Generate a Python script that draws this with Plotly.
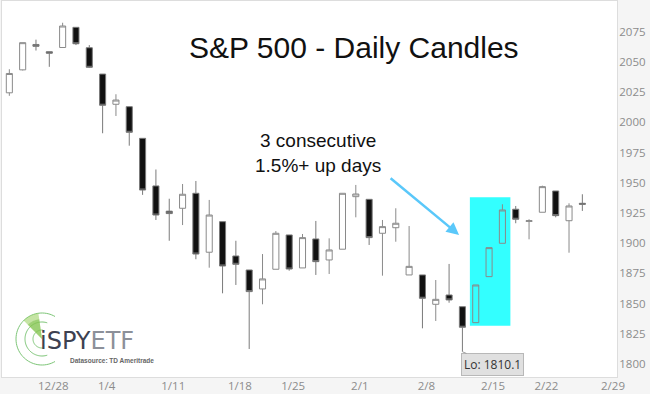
import numpy as np
import plotly.graph_objects as go

# ---------------- data ----------------
dates = ['2015-12-22', '2015-12-23', '2015-12-24', '2015-12-28', '2015-12-29', '2015-12-30',
         '2015-12-31', '2016-01-04', '2016-01-05', '2016-01-06', '2016-01-07', '2016-01-08',
         '2016-01-11', '2016-01-12', '2016-01-13', '2016-01-14', '2016-01-15', '2016-01-19',
         '2016-01-20', '2016-01-21', '2016-01-22', '2016-01-25', '2016-01-26', '2016-01-27',
         '2016-01-28', '2016-01-29', '2016-02-01', '2016-02-02', '2016-02-03', '2016-02-04',
         '2016-02-05', '2016-02-08', '2016-02-09', '2016-02-10', '2016-02-11', '2016-02-12',
         '2016-02-16', '2016-02-17', '2016-02-18', '2016-02-19', '2016-02-22', '2016-02-23',
         '2016-02-24', '2016-02-25']
opens = [2024.5, 2043.5, 2064.5, 2058.5, 2062.0, 2078.7, 2061.8, 2040.0, 2015.0, 2013.0,
         1986.8, 1947.4, 1926.5, 1928.9, 1941.3, 1892.5, 1917.8, 1889.4, 1877.8, 1862.1,
         1878.4, 1906.8, 1879.5, 1903.5, 1886.1, 1895.0, 1938.5, 1936.3, 1908.2, 1912.8,
         1873.7, 1873.7, 1849.4, 1857.1, 1847.4, 1834.2, 1872.3, 1899.9, 1928.1, 1918.0,
         1925.6, 1943.2, 1918.6, 1933.0]
highs = [2044.0, 2066.0, 2068.5, 2058.5, 2082.5, 2078.7, 2064.0, 2040.0, 2023.3, 2013.0,
         1986.8, 1961.0, 1936.8, 1949.0, 1951.5, 1935.8, 1917.8, 1902.0, 1877.8, 1891.0,
         1910.0, 1906.8, 1907.6, 1918.4, 1904.0, 1941.3, 1948.2, 1936.3, 1919.2, 1928.9,
         1914.2, 1873.7, 1869.5, 1882.8, 1847.4, 1865.4, 1896.3, 1932.2, 1930.8, 1919.8,
         1947.6, 1943.2, 1933.0, 1940.5]
lows = [2022.0, 2043.0, 2059.5, 2046.0, 2062.0, 2064.0, 2045.0, 1991.0, 2005.3, 1980.7,
        1940.0, 1919.2, 1902.0, 1915.0, 1886.7, 1879.7, 1858.5, 1865.4, 1812.4, 1849.4,
        1878.4, 1877.2, 1879.5, 1873.7, 1874.5, 1895.0, 1921.4, 1898.5, 1873.1, 1901.2,
        1873.7, 1829.5, 1835.6, 1850.7, 1810.1, 1834.2, 1872.3, 1899.9, 1916.5, 1903.2,
        1925.6, 1921.4, 1892.1, 1926.7]
closes = [2040.5, 2066.0, 2063.0, 2057.3, 2079.8, 2065.1, 2045.6, 2014.2, 2018.5, 1991.8,
          1944.0, 1923.3, 1924.5, 1940.5, 1891.0, 1923.3, 1881.1, 1882.5, 1859.9, 1870.4,
          1908.2, 1878.6, 1904.6, 1884.7, 1894.4, 1941.3, 1940.7, 1904.6, 1913.7, 1916.5,
          1880.8, 1854.4, 1853.5, 1853.0, 1830.4, 1865.4, 1896.3, 1927.5, 1919.8, 1918.6,
          1946.8, 1922.8, 1930.8, 1932.2]
holidays = ['2015-12-25', '2016-01-01', '2016-01-18', '2016-02-15']
tick_dates = ['2015-12-28', '2016-01-04', '2016-01-11', '2016-01-18', '2016-01-25',
              '2016-02-01', '2016-02-08', '2016-02-15', '2016-02-22', '2016-02-29']
tick_labels = ['12/28', '1/4', '1/11', '1/18', '1/25', '2/1', '2/8', '2/15', '2/22', '2/29']
y_ticks = [1800, 1825, 1850, 1875, 1900, 1925, 1950, 1975, 2000, 2025, 2050, 2075]

# trading-day index positions
x_pos = np.busday_count(dates[0], dates, holidays=holidays)
tick_pos = np.busday_count(dates[0], tick_dates, holidays=holidays) + 0.3
low_i = int(np.argmin(lows))

# ---------------- layout geometry helpers ----------------
W, H = 650, 394
ML, MR, MT, MB = 2, 33, 1, 17
PW, PH = W - ML - MR, H - MT - MB


def px(x):
    return (x - ML) / PW


def py(y):
    return (H - MB - y) / PH


fig = go.Figure()
fig.add_trace(go.Candlestick(
    x=x_pos, open=opens, high=highs, low=lows, close=closes,
    increasing=dict(line=dict(color='#8a8a8a', width=1), fillcolor='rgba(0,0,0,0)'),
    decreasing=dict(line=dict(color='#7a7a7a', width=1), fillcolor='#111111'),
    whiskerwidth=0, hoverinfo='skip', showlegend=False,
))

shapes = []
# cyan highlight box
shapes.append(dict(type='rect', xref='x', yref='y', x0=34.56, x1=37.6, y0=1831.7, y1=1938,
                   fillcolor='#33ffff', line=dict(width=0), layer='below'))

# logo rings
cx, cy = 42, 339
for r, a0, a1 in [(26, 60, 300), (17, 72, 288), (9, 85, 275)]:
    ang = np.radians(np.linspace(a0, a1, 60))
    pts = [(px(cx + r * np.cos(a)), py(cy - r * np.sin(a))) for a in ang]
    path = 'M ' + ' L '.join(f'{a:.5f},{b:.5f}' for a, b in pts)
    shapes.append(dict(type='path', xref='paper', yref='paper', path=path,
                       line=dict(color='#7cc576', width=1)))
# radar wedge
for r0, col in [(26, 'rgba(150,205,90,0.55)'), (20, 'rgba(120,190,70,0.5)')]:
    ang = np.radians(np.linspace(98, 135, 12))
    pts = [(px(cx), py(cy))] + [(px(cx + r0 * np.cos(a)), py(cy - r0 * np.sin(a))) for a in ang]
    path = 'M ' + ' L '.join(f'{a:.5f},{b:.5f}' for a, b in pts) + ' Z'
    shapes.append(dict(type='path', xref='paper', yref='paper', path=path,
                       fillcolor=col, line=dict(width=0)))

annotations = [
    dict(text='S&P 500 - Daily Candles', xref='paper', yref='paper', x=px(353.5), y=py(47),
         showarrow=False, xanchor='center', yanchor='middle',
         font=dict(family='Liberation Sans, Arial', size=30, color='#111111')),
    dict(text='3 consecutive<br>1.5%+ up days', xref='paper', yref='paper', x=px(318), y=py(152.5),
         showarrow=False, xanchor='center', yanchor='middle', align='center',
         font=dict(family='Liberation Sans, Arial', size=19, color='#111111')),
    # arrow
    dict(text='', x=33.75, y=1906.8, xref='x', yref='y', ax=-70, ay=-58, showarrow=True,
         arrowhead=2, arrowsize=1, arrowwidth=2.5, arrowcolor='#5ac8fa', standoff=0),
    # low label
    dict(text='Lo: %.1f' % lows[low_i], x=int(x_pos[low_i]), y=lows[low_i], xref='x', yref='y',
         ax=30.5, ay=12.7, showarrow=True, arrowhead=0, arrowwidth=1, arrowcolor='#a0a0a0',
         bgcolor='#e0e0e0', bordercolor='#b8b8b8', borderwidth=1, borderpad=2,
         font=dict(family='Open Sans, Arial', size=12, color='#333333')),
    # logo text
    dict(text="<span style='color:#3d4150'>iSPY</span><span style='color:#8c9099'>ETF</span>",
         xref='paper', yref='paper', x=px(38), y=py(341), xanchor='left', yanchor='middle',
         showarrow=False, font=dict(family='DejaVu Sans', size=24)),
    dict(text='<b>Datasource: TD Ameritrade</b>', xref='paper', yref='paper', x=px(68), y=py(360),
         xanchor='left', yanchor='middle', showarrow=False,
         font=dict(family='Liberation Sans, Arial', size=6.5, color='#666666')),
]

fig.update_layout(
    width=W, height=H,
    margin=dict(l=ML, r=MR, t=MT, b=MB, pad=0),
    paper_bgcolor='#f5f5f5', plot_bgcolor='white',
    boxgap=0.35,
    shapes=shapes, annotations=annotations,
    xaxis=dict(range=[-0.55, 45.6], tickvals=tick_pos, ticktext=tick_labels, automargin=False,
               showgrid=False, zeroline=False, showline=True, linecolor='#dddddd', mirror=True,
               ticks='', rangeslider=dict(visible=False), ticklabelstandoff=-2,
               tickfont=dict(family='Open Sans, Arial', size=11.5, color='#8c8c8c')),
    yaxis=dict(range=[1789.2, 2100.5], tickvals=y_ticks, side='right', automargin=False,
               showgrid=False, zeroline=False, showline=True, linecolor='#dddddd', mirror=True,
               ticks='', ticklabelstandoff=-1,
               tickfont=dict(family='Open Sans, Arial', size=11.5, color='#8c8c8c')),
)

fig.write_html('out.html', config={'displayModeBar': False},
               post_script="document.body.style.margin='0';")
